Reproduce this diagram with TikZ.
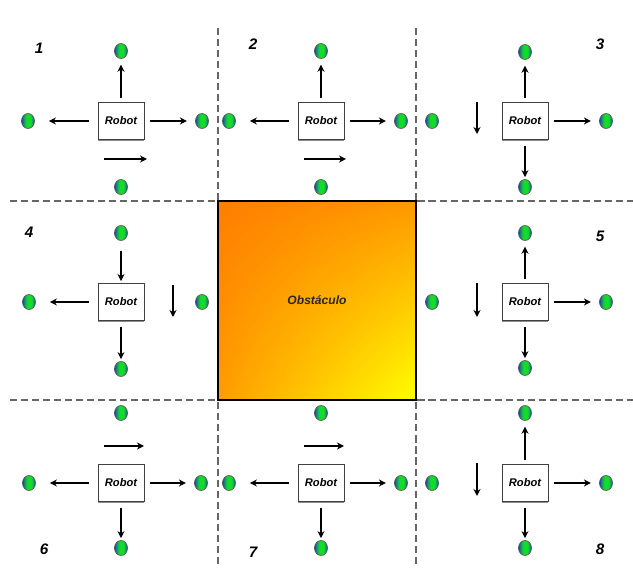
\documentclass[tikz,border=0pt]{standalone}
\usepackage{fontspec}
\setmainfont{Liberation Sans}
\usetikzlibrary{arrows.meta,shapes.geometric,shadows,shadings}
\newlength\pxu
\setlength\pxu{0.03cm}
\definecolor{dotblue}{RGB}{30,60,190}
\definecolor{dotgreen}{RGB}{20,220,40}
\definecolor{obsUL}{HTML}{FF7E00}
\definecolor{obsUR}{HTML}{FF9800}
\definecolor{obsLL}{HTML}{FF9C00}
\definecolor{obsLR}{HTML}{FFFF00}
\pgfdeclarehorizontalshading{dotshade}{100bp}{color(0bp)=(dotblue); color(25bp)=(dotblue);
  color(34bp)=(dotgreen!60!dotblue); color(44bp)=(dotgreen); color(60bp)=(dotgreen);
  color(69bp)=(dotgreen!45!dotblue); color(75bp)=(dotblue); color(100bp)=(dotblue)}
\tikzset{
  gridline/.style={draw=black!60, line width=0.95pt, dash pattern=on 6pt off 3.4pt},
  robot/.style={draw=black!75, fill=white, line width=0.75pt,
    minimum width=46\pxu, minimum height=37\pxu, inner sep=0pt,
    font=\fontsize{9.5}{11}\selectfont\bfseries\itshape,
    drop shadow={shadow xshift=0.3pt, shadow yshift=-0.9pt, fill=black!45, opacity=1}},
  target/.style={ellipse, draw=black!65, line width=0.6pt,
    minimum width=13\pxu, minimum height=15\pxu, inner sep=0pt, shading=dotshade},
  numlabel/.style={font=\fontsize{13}{15}\selectfont\bfseries\itshape},
  arrowbase/.style={-{Stealth[length=6pt,width=6pt]}, line width=1.35pt},
  armE/.style={arrowbase, shorten <=5pt, shorten >=7pt},
  armW/.style={arrowbase, shorten <=7.7pt, shorten >=12pt},
  armN/.style={arrowbase, line width=2pt, shorten <=3.4pt, shorten >=5pt},
  armS/.style={arrowbase, line width=2pt, shorten <=5pt, shorten >=1.7pt},
  armIn/.style={arrowbase, line width=2pt, shorten <=8.5pt, shorten >=1.7pt},
  heading/.style={arrowbase},
  headingthick/.style={arrowbase, line width=2.2pt},
}
\begin{document}
\begin{tikzpicture}[x=\pxu, y=-\pxu]
\useasboundingbox (0,0) rectangle (633,570);

% dashed cell borders
\draw[gridline] (218,28) -- (218,565);
\draw[gridline] (416,28) -- (416,565);
\draw[gridline] (10,201) -- (633,201);
\draw[gridline] (10,400) -- (633,400);

% obstacle in the middle cell
\node[draw=black, line width=2.5pt, minimum width=198\pxu, minimum height=199\pxu,
      upper left=obsUL, upper right=obsUR, lower left=obsLL, lower right=obsLR,
      text=black!85, font=\fontsize{10.3}{12}\selectfont\bfseries\itshape] (obs) at (317,300.5) {Obstáculo};

% cell numbers
\node[numlabel] (n1) at (39,48) {1};
\node[numlabel] (n2) at (253,44) {2};
\node[numlabel] (n3) at (600,44) {3};
\node[numlabel] (n4) at (29,232) {4};
\node[numlabel] (n5) at (600,236) {5};
\node[numlabel] (n6) at (44,549) {6};
\node[numlabel] (n7) at (253,552) {7};
\node[numlabel] (n8) at (600,549) {8};

% robots
\node[robot] (r1) at (121,121) {Robot};
\node[robot] (r2) at (321,121) {Robot};
\node[robot] (r3) at (525,121) {Robot};
\node[robot] (r4) at (121,302) {Robot};
\node[robot] (r5) at (525,302) {Robot};
\node[robot] (r6) at (121,483) {Robot};
\node[robot] (r7) at (321,483) {Robot};
\node[robot] (r8) at (525,483) {Robot};

% neighbouring positions
\node[target] (d1n) at (121,51) {};
\node[target] (d1w) at (28,121) {};
\node[target] (d1e) at (202,121) {};
\node[target] (d1s) at (121,187) {};

\node[target] (d2n) at (321,51) {};
\node[target] (d2w) at (229,121) {};
\node[target] (d2e) at (401,121) {};
\node[target] (d2s) at (321,187) {};

\node[target] (d3n) at (525,52) {};
\node[target] (d3w) at (432,121) {};
\node[target] (d3e) at (606,121) {};
\node[target] (d3s) at (525,187) {};

\node[target] (d4n) at (121,233) {};
\node[target] (d4w) at (29,302) {};
\node[target] (d4e) at (202,302) {};
\node[target] (d4s) at (121,369) {};

\node[target] (d5n) at (525,233) {};
\node[target] (d5w) at (432,302) {};
\node[target] (d5e) at (606,302) {};
\node[target] (d5s) at (525,368) {};

\node[target] (d6n) at (121,413) {};
\node[target] (d6w) at (29,483) {};
\node[target] (d6e) at (201,483) {};
\node[target] (d6s) at (121,548) {};

\node[target] (d7n) at (321,413) {};
\node[target] (d7w) at (229,483) {};
\node[target] (d7e) at (401,483) {};
\node[target] (d7s) at (321,548) {};

\node[target] (d8n) at (525,413) {};
\node[target] (d8w) at (432,483) {};
\node[target] (d8e) at (606,483) {};
\node[target] (d8s) at (525,548) {};

% possible moves
\draw[armN] (r1) -- (d1n);
\draw[armW] (r1) -- (d1w);
\draw[armE] (r1) -- (d1e);

\draw[armN] (r2) -- (d2n);
\draw[armW] (r2) -- (d2w);
\draw[armE] (r2) -- (d2e);

\draw[armN] (r3) -- (d3n);
\draw[armE] (r3) -- (d3e);
\draw[armS] (r3) -- (d3s);

\draw[armIn] (d4n) -- (r4);
\draw[armW] (r4) -- (d4w);
\draw[armS] (r4) -- (d4s);

\draw[armN] (r5) -- (d5n);
\draw[armE] (r5) -- (d5e);
\draw[armS] (r5) -- (d5s);

\draw[armW] (r6) -- (d6w);
\draw[armE] (r6) -- (d6e);
\draw[armS] (r6) -- (d6s);

\draw[armW] (r7) -- (d7w);
\draw[armE] (r7) -- (d7e);
\draw[armS] (r7) -- (d7s);

\draw[armN] (r8) -- (d8n);
\draw[armE] (r8) -- (d8e);
\draw[armS] (r8) -- (d8s);

% direction of travel in each cell
\draw[headingthick] (104,159) -- (147,159);
\draw[headingthick] (304,159) -- (346,159);
\draw[heading] (477,102) -- (477,134);
\draw[heading] (173,285) -- (173,317);
\draw[heading] (477,283) -- (477,317);
\draw[heading] (104,446) -- (144,446);
\draw[heading] (304,446) -- (344,446);
\draw[heading] (477,463) -- (477,496);
\end{tikzpicture}
\end{document}
